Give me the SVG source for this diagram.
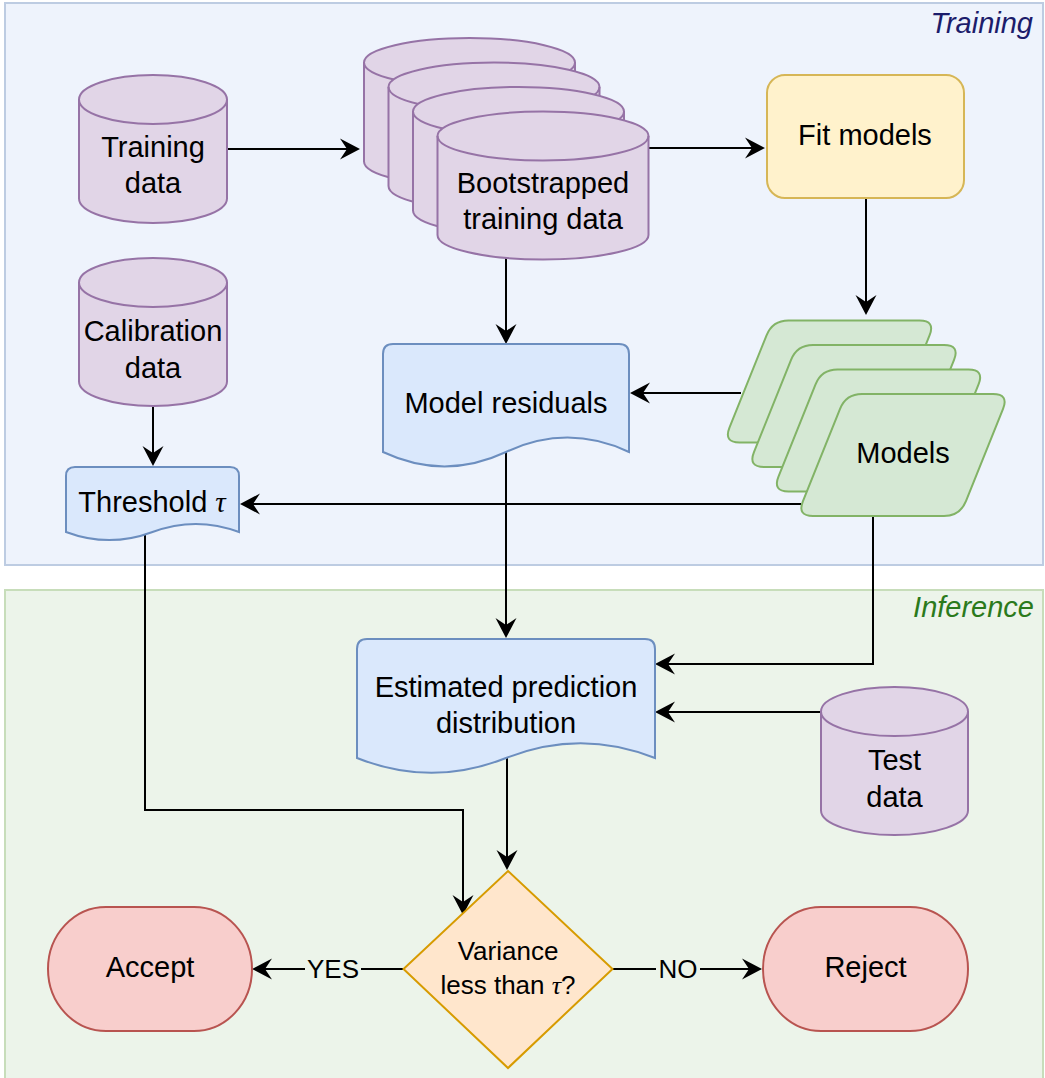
<svg xmlns="http://www.w3.org/2000/svg" xmlns:xlink="http://www.w3.org/1999/xlink" width="1045" height="1078" viewBox="0 0 1045 1078">
<style>
text{font-family:"Liberation Sans",Arial,Helvetica,sans-serif;font-size:29px;fill:#000;text-anchor:middle}
.cyl{fill:#e1d5e7;stroke:#9673a6;stroke-width:2}
.doc{fill:#dae8fc;stroke:#6c8ebf;stroke-width:2}
.par{fill:#d5e8d4;stroke:#82b366;stroke-width:2}
.proc{fill:#fff2cc;stroke:#d6b656;stroke-width:2}
.term{fill:#f8cecc;stroke:#b85450;stroke-width:2}
.dec{fill:#ffe6cc;stroke:#d79b00;stroke-width:2}
.edge{fill:none;stroke:#000;stroke-width:2;marker-end:url(#arr)}
.tau{font-family:"Liberation Serif","DejaVu Serif",serif;font-style:italic}
.lbl{font-size:26px}
.group{font-style:italic;text-anchor:end}
</style>
<defs>
<marker id="arr" viewBox="-20 -12 24 24" refX="0" refY="0" markerWidth="24" markerHeight="24" orient="auto" markerUnits="userSpaceOnUse">
<path d="M2,0 L-18,-10.5 L-11,0 L-18,10.5 Z" fill="#000"/>
</marker>
<g id="cylS">
<path d="M0,24.5 A74,24.5 0 0 1 148,24.5 V123.5 A74,24.5 0 0 1 0,123.5 Z"/>
<path d="M0,24.5 A74,24.5 0 0 0 148,24.5" fill="none"/>
</g>
<g id="cylL">
<path d="M0,24.5 A105.5,24.5 0 0 1 211,24.5 V123.5 A105.5,24.5 0 0 1 0,123.5 Z"/>
<path d="M0,24.5 A105.5,24.5 0 0 0 211,24.5" fill="none"/>
</g>
<path id="para" d="M802.96,501.15 L840.04,408.85 Q846,394 862,394 L993,394 Q1009,394 1003.04,408.85 L965.96,501.15 Q960,516 944,516 L813,516 Q797,516 802.96,501.15 Z"/>
</defs>

<g id="containers">
<g id="training-group">
<rect x="5" y="3" width="1038" height="562" fill="#eef3fc" stroke="#bdcce2" stroke-width="2"/>
<text class="group" x="1033" y="33" style="fill:#1c1c6b">Training</text>
</g>
<g id="inference-group">
<rect x="5" y="590" width="1038" height="500" fill="#ecf4ea" stroke="#c7ddba" stroke-width="2"/>
<text class="group" x="1034" y="617" style="fill:#2b7a1c">Inference</text>
</g>
</g>

<g id="connectors">
<path class="edge" d="M227,149 H358"/>
<path class="edge" d="M648,148 H763"/>
<path class="edge" d="M866,198 V313"/>
<path class="edge" d="M506,258 V342"/>
<path class="edge" d="M741,393 H632"/>
<path class="edge" d="M153,406 V464"/>
<path class="edge" d="M801,504 H242"/>
<path class="edge" d="M506,452 V636"/>
<path class="edge" d="M873,516 V664 H657"/>
<path class="edge" d="M821,712 H657"/>
<path class="edge" d="M145,534 V810 H463 V913"/>
<path class="edge" d="M507,758 V868"/>
<path class="edge" d="M403,969 H254"/>
<path class="edge" d="M612,969 H760"/>
</g>

<g id="training-data">
<use xlink:href="#cylS" class="cyl" transform="translate(79,75)"/>
<text x="153" y="157">Training</text>
<text x="153" y="193">data</text>
</g>

<g id="bootstrapped-data">
<use xlink:href="#cylL" class="cyl" transform="translate(364,38)"/>
<use xlink:href="#cylL" class="cyl" transform="translate(388.5,62.5)"/>
<use xlink:href="#cylL" class="cyl" transform="translate(413,87)"/>
<use xlink:href="#cylL" class="cyl" transform="translate(437.5,111.5)"/>
<text x="543" y="193">Bootstrapped</text>
<text x="543" y="229">training data</text>
</g>

<g id="fit-models">
<rect class="proc" x="767" y="75" width="197" height="123" rx="18" ry="18"/>
<text x="865" y="145">Fit models</text>
</g>

<g id="calibration-data">
<use xlink:href="#cylS" class="cyl" transform="translate(79,258)"/>
<text x="153" y="341">Calibration</text>
<text x="153" y="378">data</text>
</g>

<g id="model-residuals">
<path class="doc" d="M383,354 Q383,344 393,344 H619 Q629,344 629,354 V452 Q567.5,423.2 506,452 Q444.5,480.8 383,452 Z"/>
<text x="506" y="413">Model residuals</text>
</g>

<g id="models">
<use xlink:href="#para" class="par" transform="translate(-73.5,-73.5)"/>
<use xlink:href="#para" class="par" transform="translate(-49,-49)"/>
<use xlink:href="#para" class="par" transform="translate(-24.5,-24.5)"/>
<use xlink:href="#para" class="par"/>
<text x="903" y="463">Models</text>
</g>

<g id="threshold">
<path class="doc" d="M66,476 Q66,467 75,467 H230 Q239,467 239,476 V532 Q195.75,515.8 152.5,532 Q109.25,548.2 66,532 Z"/>
<text x="152" y="512">Threshold <tspan class="tau">τ</tspan></text>
</g>

<g id="estimated-prediction">
<path class="doc" d="M357,649 Q357,639 367,639 H645 Q655,639 655,649 V758 Q580.5,728.3 506,758 Q431.5,787.7 357,758 Z"/>
<text x="506" y="697">Estimated prediction</text>
<text x="506" y="733">distribution</text>
</g>

<g id="test-data">
<g class="cyl" transform="translate(821,687)">
<path d="M0,24.5 A73.5,24.5 0 0 1 147,24.5 V123.5 A73.5,24.5 0 0 1 0,123.5 Z"/>
<path d="M0,24.5 A73.5,24.5 0 0 0 147,24.5" fill="none"/>
</g>
<text x="894.5" y="770">Test</text>
<text x="894.5" y="807">data</text>
</g>

<g id="variance-decision">
<path class="dec" d="M508,871 L612.5,969 L508,1068 L403.5,969 Z"/>
<text class="lbl" x="508" y="960">Variance</text>
<text class="lbl" x="508" y="994">less than <tspan class="tau">τ</tspan>?</text>
</g>

<g id="accept">
<rect class="term" x="48" y="907" width="204" height="124" rx="58" ry="62"/>
<text x="150" y="977">Accept</text>
</g>

<g id="reject">
<rect class="term" x="763" y="907" width="205" height="124" rx="58" ry="62"/>
<text x="865.5" y="977">Reject</text>
</g>

<g id="edge-labels">
<rect x="305" y="955" width="56" height="28" fill="#ecf4ea"/>
<text class="lbl" x="333" y="978">YES</text>
<rect x="656" y="955" width="44" height="28" fill="#ecf4ea"/>
<text class="lbl" x="678" y="978">NO</text>
</g>
</svg>
